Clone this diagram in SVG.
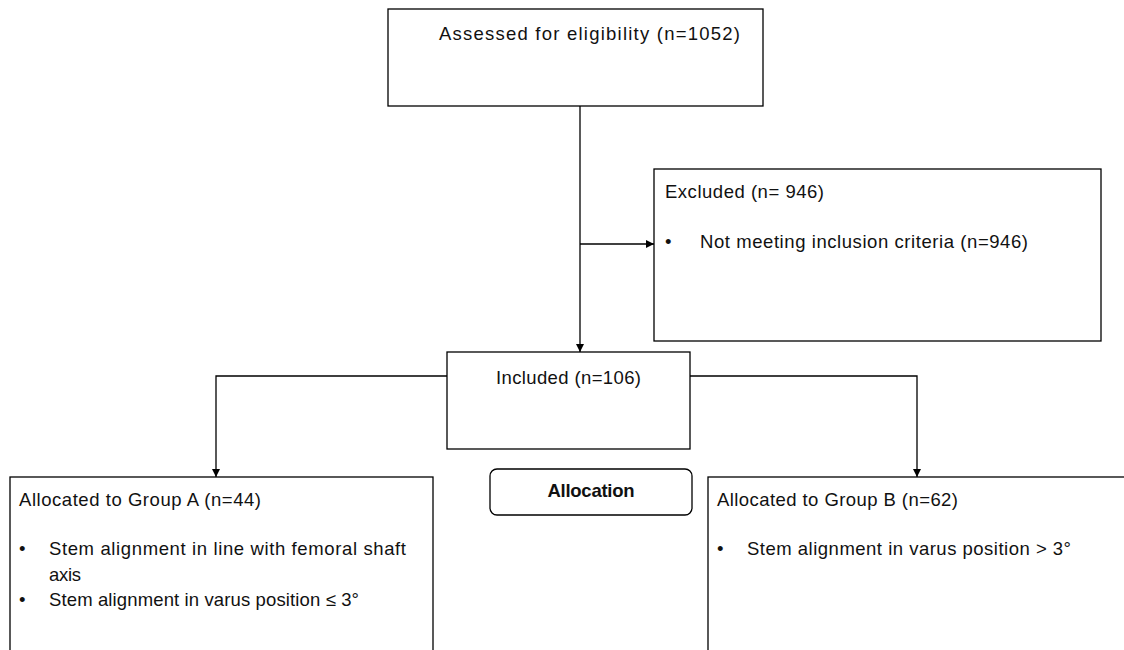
<svg xmlns="http://www.w3.org/2000/svg" width="1124" height="650" viewBox="0 0 1124 650">
<style>
.box{fill:#fff;stroke:#000;stroke-width:1.3}
.t{font-family:"Liberation Sans","Noto Sans",sans-serif;font-size:18.5px;fill:#111}
.b{font-weight:bold}
.c{fill:none;stroke:#000;stroke-width:1.3}
</style>
<defs>
<marker id="ah" viewBox="0 0 10 10" refX="10" refY="5" markerWidth="8" markerHeight="8" markerUnits="userSpaceOnUse" orient="auto">
<path d="M0,0 L10,5 L0,10 z" fill="#000"/>
</marker>
</defs>
<rect width="1124" height="650" fill="#fff"/>
<g id="connectors">
<path class="c" d="M580,106 V352" marker-end="url(#ah)"/>
<path class="c" d="M580,244 H654" marker-end="url(#ah)"/>
<path class="c" d="M447,376 H216 V477" marker-end="url(#ah)"/>
<path class="c" d="M690,376 H917 V477" marker-end="url(#ah)"/>
</g>
<g id="assessed">
<rect class="box" x="388" y="9" width="375" height="97"/>
<text class="t" x="439" y="40" textLength="301">Assessed  for eligibility (n=1052)</text>
</g>
<g id="excluded">
<rect class="box" x="654" y="169" width="447" height="172"/>
<text class="t" x="665" y="198" textLength="159">Excluded  (n= 946)</text>
<text class="t" x="665" y="248">•</text>
<text class="t" x="700" y="248" textLength="328">Not meeting inclusion criteria (n=946)</text>
</g>
<g id="included">
<rect class="box" x="447" y="352" width="243" height="97"/>
<text class="t" x="496" y="384" textLength="145">Included (n=106)</text>
</g>
<g id="allocation">
<rect class="box" x="490" y="469" width="202" height="46" rx="7"/>
<text class="t b" x="591" y="497" text-anchor="middle" textLength="87">Allocation</text>
</g>
<g id="groupA">
<rect class="box" x="10" y="477" width="423" height="200"/>
<text class="t" x="19" y="506" textLength="242">Allocated to Group A (n=44)</text>
<text class="t" x="19" y="555">•</text>
<text class="t" x="49" y="555" textLength="357">Stem alignment in line with femoral shaft</text>
<text class="t" x="49" y="581" textLength="32">axis</text>
<text class="t" x="19" y="606">•</text>
<text class="t" x="49" y="606" textLength="310">Stem alignment in varus position ≤ 3°</text>
</g>
<g id="groupB">
<rect class="box" x="708" y="477" width="440" height="200"/>
<text class="t" x="717" y="506" textLength="241">Allocated to Group B (n=62)</text>
<text class="t" x="717" y="555">•</text>
<text class="t" x="747" y="555" textLength="324">Stem alignment in varus position &gt; 3°</text>
</g>
</svg>
